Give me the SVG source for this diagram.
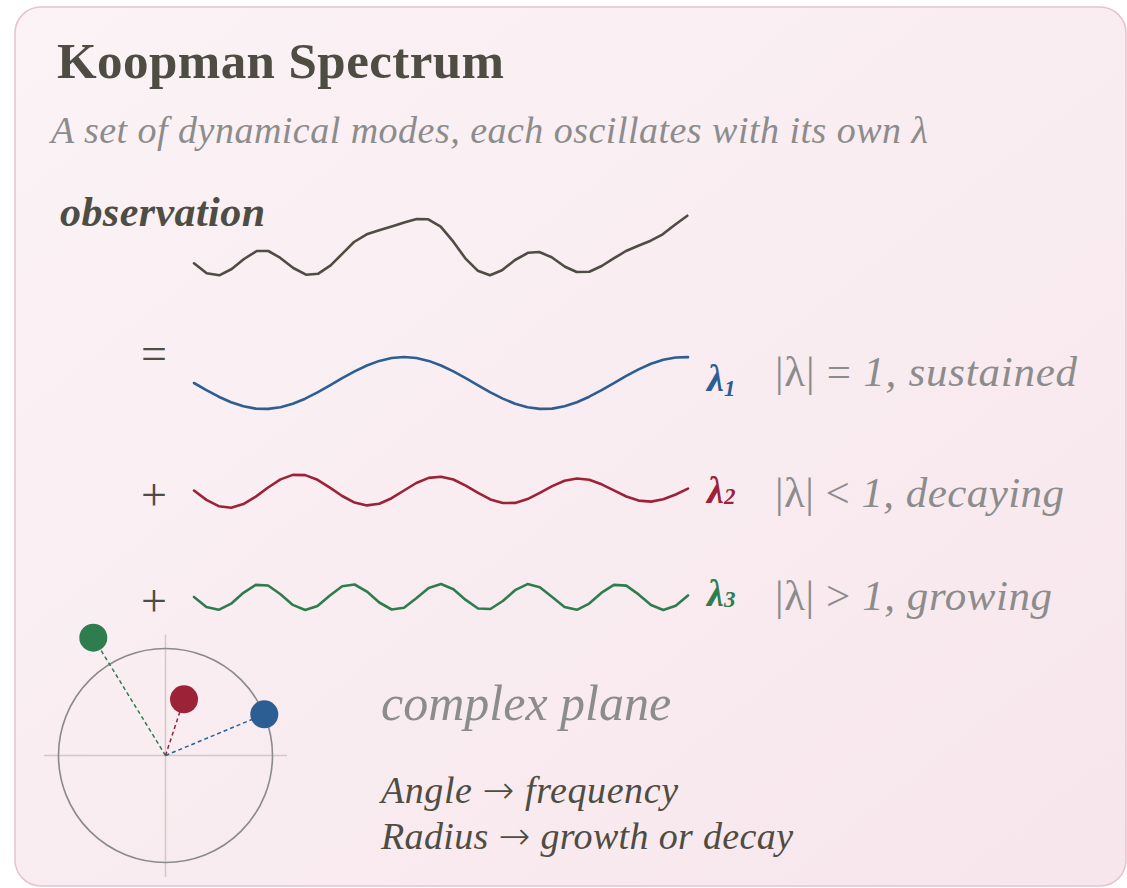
<svg xmlns="http://www.w3.org/2000/svg" width="1127" height="888" viewBox="0 0 1127 888">
  <defs>
    <linearGradient id="cardBg" x1="0" y1="0" x2="1" y2="1">
      <stop offset="0" stop-color="#fbf3f6"/>
      <stop offset="1" stop-color="#f7e6ec"/>
    </linearGradient>
    <style>
      .serif { font-family: "Liberation Serif", "DejaVu Serif", serif; }
      .arrow { font-family: "Noto Sans", "DejaVu Sans", sans-serif; font-style: normal; font-weight: 300; }
      .dark { fill: #4e4c43; }
      .muted { fill: #8c8c8c; }
      .wave { fill: none; stroke-width: 2.6; stroke-linejoin: round; stroke-linecap: round; }
      .axis { stroke: #d2c9c2; stroke-width: 1.5; }
      .dash { fill: none; stroke-width: 1.5; stroke-dasharray: 4 3; }
      .blue { stroke: #2c5d93; }
      .red { stroke: #9c2238; }
      .green { stroke: #2e7d4f; }
    </style>
  </defs>

  <rect x="0" y="0" width="1127" height="888" fill="#ffffff"/>
  <rect id="card" x="15" y="7" width="1111" height="879" rx="26" ry="26" fill="url(#cardBg)" stroke="#e6c2cf" stroke-width="1.5"/>

  <g id="header">
    <text class="serif dark" x="57" y="78" font-size="51" font-weight="bold" textLength="447" lengthAdjust="spacing">Koopman Spectrum</text>
    <text class="serif muted" x="51" y="143" font-size="38" font-style="italic" textLength="877" lengthAdjust="spacing">A set of dynamical modes, each oscillates with its own λ</text>
  </g>

  <g id="observation">
    <text class="serif dark" x="60" y="226" font-size="42" font-weight="bold" font-style="italic" textLength="205" lengthAdjust="spacing">observation</text>
    <polyline class="wave" stroke="#4e4c43" stroke-width="3" points="194.0,263.3 206.7,273.3 219.3,275.3 231.7,269.0 244.0,259.0 256.7,251.0 268.3,251.0 280.0,257.7 293.3,268.0 306.0,274.7 318.3,273.7 330.7,265.3 342.7,253.3 354.0,242.0 366.7,234.3 380.0,230.0 393.3,226.0 405.0,222.3 416.7,219.0 428.3,219.3 440.7,226.7 453.3,241.7 465.3,258.3 477.7,270.7 490.0,275.3 502.0,270.3 515.0,260.0 528.3,252.7 539.3,252.0 551.7,257.3 565.0,266.7 576.7,272.0 589.3,271.7 601.7,266.0 613.3,258.7 626.0,251.0 638.3,245.7 650.7,240.7 662.7,234.3 675.0,224.7 687.3,215.7"/>
  </g>

  <g id="mode1">
    <text class="serif dark" x="154" y="369" font-size="46" text-anchor="middle">=</text>
    <polyline class="wave blue" points="194.0,383.0 206.4,390.1 218.7,396.7 231.1,402.2 243.4,406.3 255.8,408.6 268.1,408.9 280.5,407.2 292.8,403.7 305.2,398.7 317.5,392.4 329.9,385.4 342.2,378.2 354.6,371.4 366.9,365.5 379.3,360.9 391.6,358.0 404.0,357.0 416.3,358.0 428.7,360.9 441.0,365.5 453.4,371.4 465.7,378.2 478.1,385.4 490.4,392.4 502.8,398.6 515.1,403.7 527.5,407.2 539.8,408.9 552.2,408.6 564.5,406.3 576.9,402.2 589.2,396.7 601.6,390.2 613.9,383.1 626.3,375.9 638.6,369.4 651.0,363.8 663.3,359.8 675.7,357.5 688.0,357.1"/>
    <text class="serif" x="707" y="391" font-size="38" font-weight="bold" font-style="italic" fill="#2c5d93">λ<tspan font-size="23" dy="5">1</tspan></text>
    <text class="serif muted" x="775" y="386" font-size="43" textLength="302" lengthAdjust="spacing">|λ| = <tspan font-style="italic">1, sustained</tspan></text>
  </g>

  <g id="mode2">
    <text class="serif dark" x="154" y="510" font-size="46" text-anchor="middle">+</text>
    <polyline class="wave red" points="194.0,490.5 206.4,499.9 218.7,506.2 231.1,507.7 243.4,504.1 255.8,496.6 268.1,487.5 280.5,479.4 292.8,474.9 305.2,475.1 317.5,479.8 329.9,487.6 342.2,496.0 354.6,502.6 366.9,505.4 379.3,503.8 391.6,498.2 404.0,490.5 416.3,483.0 428.7,477.9 441.0,476.7 453.4,479.5 465.7,485.6 478.1,492.9 490.4,499.4 502.8,503.0 515.1,502.9 527.5,499.1 539.8,492.8 552.2,486.1 564.5,480.8 576.9,478.5 589.2,479.8 601.6,484.3 613.9,490.4 626.3,496.5 638.6,500.6 651.0,501.6 663.3,499.3 675.7,494.5 688.0,488.6"/>
    <text class="serif" x="707" y="503" font-size="38" font-weight="bold" font-style="italic" fill="#9c2238">λ<tspan font-size="23" dy="1">2</tspan></text>
    <text class="serif muted" x="775" y="507" font-size="43" textLength="289" lengthAdjust="spacing">|λ| &lt; <tspan font-style="italic">1, decaying</tspan></text>
  </g>

  <g id="mode3">
    <text class="serif dark" x="154" y="616" font-size="46" text-anchor="middle">+</text>
    <polyline class="wave green" points="194.0,597.0 206.4,606.9 218.7,609.8 231.1,603.7 243.4,592.8 255.8,584.9 268.1,585.5 280.5,594.2 292.8,604.9 305.2,610.0 317.5,605.9 329.9,595.5 342.2,586.2 354.6,584.5 366.9,591.6 379.3,602.5 391.6,609.5 404.0,607.7 416.3,598.3 428.7,588.0 441.0,584.0 453.4,589.2 465.7,599.9 478.1,608.5 490.4,609.0 502.8,601.0 515.1,590.2 527.5,584.1 539.8,587.2 552.2,597.1 564.5,607.0 576.9,609.8 589.2,603.6 601.6,592.7 613.9,584.9 626.3,585.6 638.6,594.4 651.0,605.0 663.3,610.0 675.7,605.8 688.0,595.4"/>
    <text class="serif" x="707" y="606" font-size="38" font-weight="bold" font-style="italic" fill="#2e7d4f">λ<tspan font-size="23" dy="1">3</tspan></text>
    <text class="serif muted" x="775" y="610" font-size="43" textLength="277" lengthAdjust="spacing">|λ| &gt; <tspan font-style="italic">1, growing</tspan></text>
  </g>

  <g id="complex-plane">
    <line class="axis" x1="44" y1="755.5" x2="287" y2="755.5"/>
    <line class="axis" x1="165.5" y1="634.5" x2="165.5" y2="877"/>
    <circle cx="165.5" cy="755.5" r="107" fill="none" stroke="#8a8a8a" stroke-width="1.6"/>
  </g>

  <g id="connectors">
    <line class="dash green" x1="165.5" y1="755.5" x2="93.3" y2="637.7"/>
    <line class="dash red" x1="165.5" y1="755.5" x2="184" y2="699.3"/>
    <line class="dash blue" x1="165.5" y1="755.5" x2="264.3" y2="714.3"/>
  </g>

  <g id="eigenvalues">
    <circle id="lambda3-dot" cx="93.3" cy="637.7" r="14" fill="#2e7d4f"/>
    <circle id="lambda2-dot" cx="184" cy="699.3" r="14" fill="#9c2238"/>
    <circle id="lambda1-dot" cx="264.3" cy="714.3" r="14" fill="#2c5d93"/>
  </g>

  <g id="legend">
    <text class="serif muted" x="381" y="720" font-size="50" font-style="italic">complex plane</text>
    <text class="serif dark" x="381" y="803" font-size="38" font-style="italic" textLength="297" lengthAdjust="spacing">Angle <tspan class="arrow">→</tspan> frequency</text>
    <text class="serif dark" x="381" y="849" font-size="38" font-style="italic" textLength="412" lengthAdjust="spacing">Radius <tspan class="arrow">→</tspan> growth or decay</text>
  </g>
</svg>
